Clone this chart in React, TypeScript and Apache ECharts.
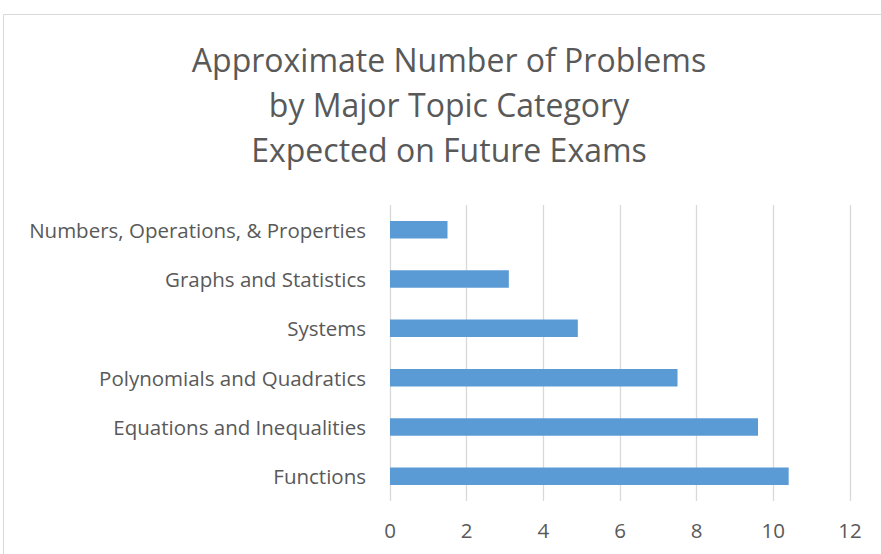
import React, { useEffect, useRef } from "react";
import * as echarts from "echarts";

const categories = [
  "Functions",
  "Equations and Inequalities",
  "Polynomials and Quadratics",
  "Systems",
  "Graphs and Statistics",
  "Numbers, Operations, & Properties",
];
const problemCounts = [10.4, 9.6, 7.5, 4.9, 3.1, 1.5];
const titleLines = [
  "Approximate Number of Problems",
  "by Major Topic Category",
  "Expected on Future Exams",
];

const FONT = "'Open Sans', 'Noto Sans', sans-serif";
const GRAY = "#595959";

export default function App() {
  const ref = useRef<HTMLDivElement>(null);
  useEffect(() => {
    if (!ref.current) return;
    const chart = echarts.init(ref.current, undefined, { renderer: "svg" });
    chart.setOption({
      animation: false,
      backgroundColor: "#ffffff",
      graphic: [
        {
          type: "rect",
          shape: { x: 3.5, y: 14.5, width: 1000, height: 1000 },
          style: { fill: "none", stroke: "#D9D9D9", lineWidth: 1 },
          silent: true,
        },
        {
          type: "text",
          x: 449,
          y: 37,
          style: {
            text: titleLines.join("\n"),
            fill: GRAY,
            fontSize: 32,
            fontFamily: FONT,
            lineHeight: 45,
            textAlign: "center",
            textVerticalAlign: "top",
          },
        },
      ],
      grid: { left: 390, right: 31, top: 205, bottom: 53, containLabel: false },
      xAxis: {
        type: "value",
        min: 0,
        max: 12,
        interval: 2,
        axisLine: { show: false },
        axisTick: { show: false },
        splitLine: { show: true, lineStyle: { color: "#D9D9D9", width: 1.3 } },
        axisLabel: { color: GRAY, fontSize: 20.5, fontFamily: FONT, margin: 18 },
      },
      yAxis: {
        type: "category",
        data: categories,
        axisLine: { show: false },
        axisTick: { show: false },
        axisLabel: { color: GRAY, fontSize: 20.5, fontFamily: FONT, margin: 24 },
      },
      series: [
        {
          type: "bar",
          data: problemCounts,
          barWidth: 17.5,
          itemStyle: { color: "#5B9BD5" },
        },
      ],
    });
    return () => chart.dispose();
  }, []);
  return (
    <div
      ref={ref}
      style={{ position: "fixed", left: 0, top: 0, width: 881, height: 554 }}
    />
  );
}
